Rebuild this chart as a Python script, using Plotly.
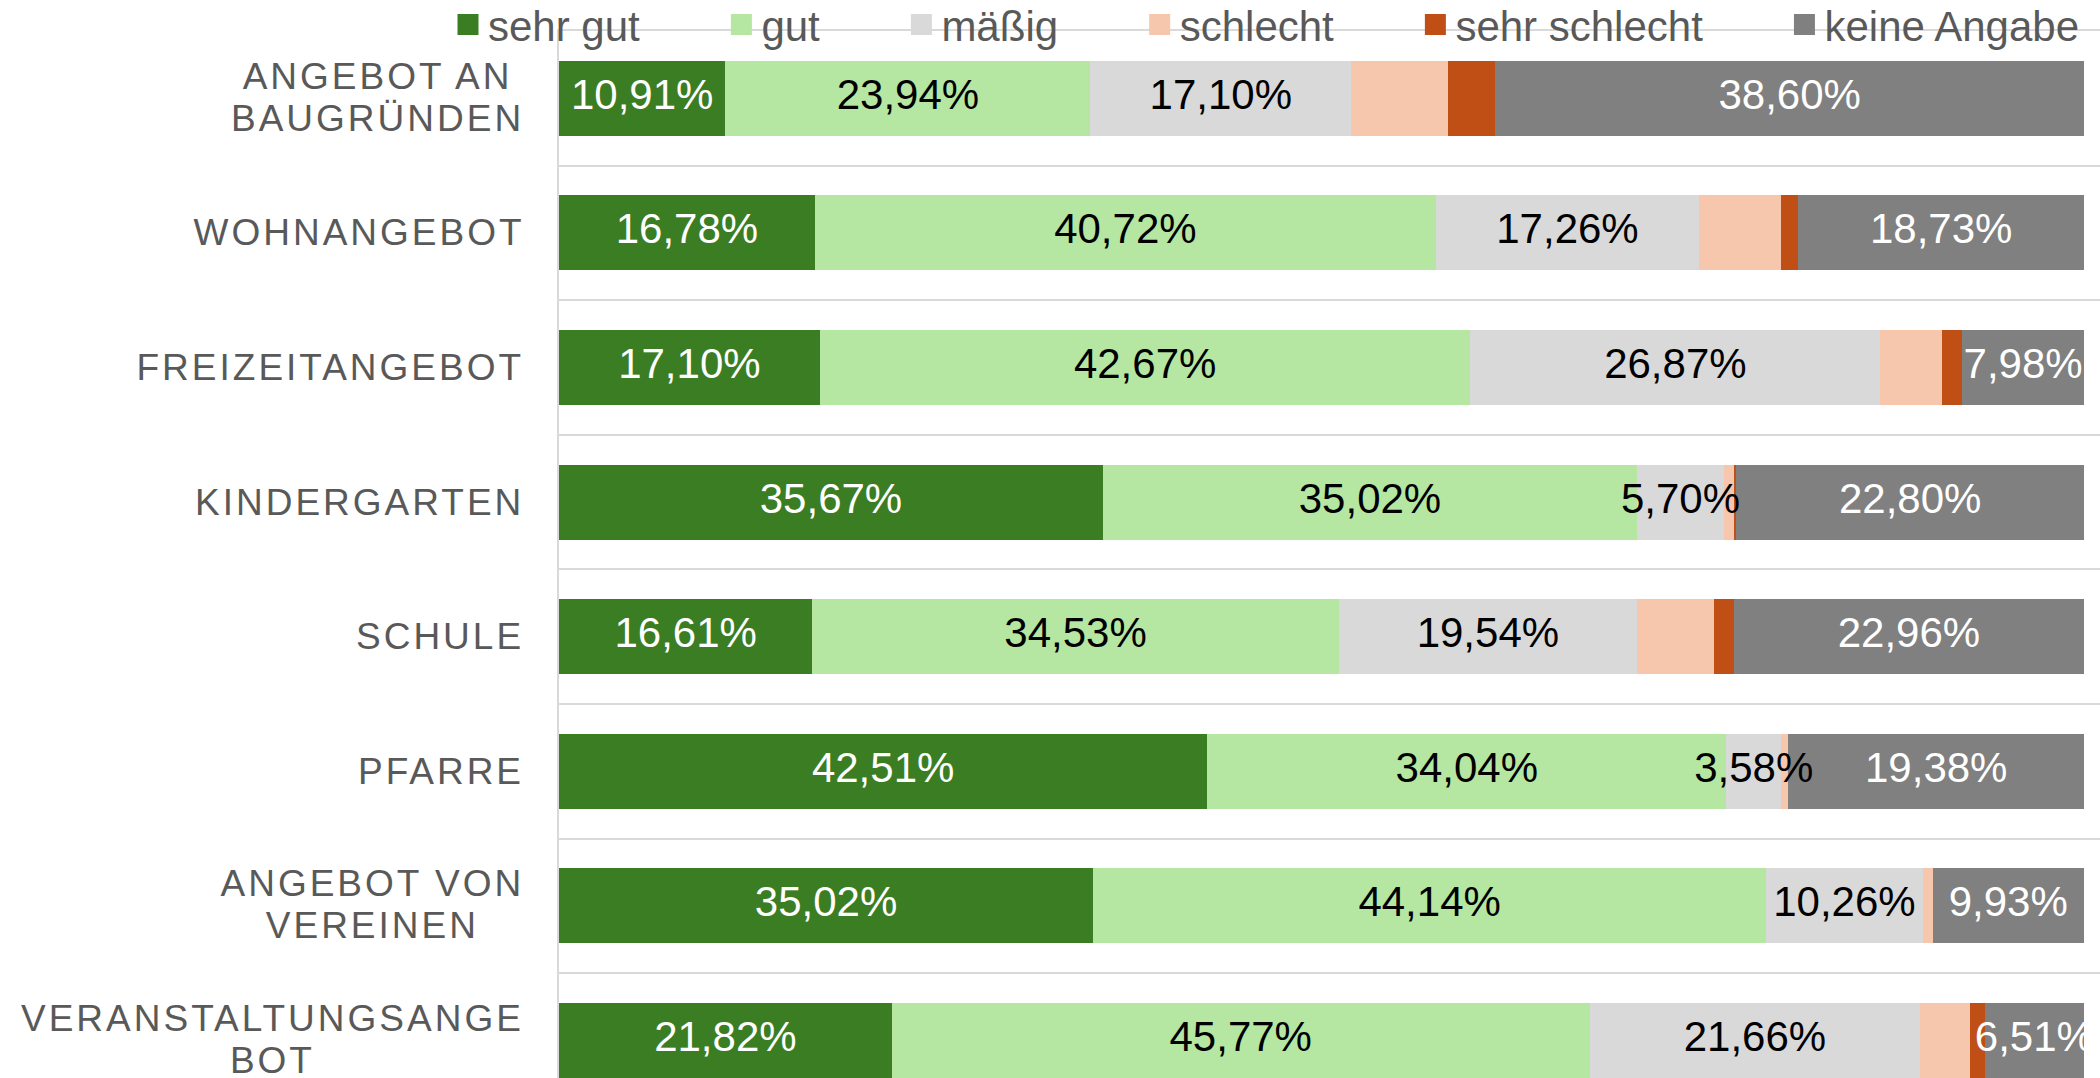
import plotly.graph_objects as go

# ---------------- data ----------------
categories = ["ANGEBOT AN BAUGRÜNDEN", "WOHNANGEBOT", "FREIZEITANGEBOT", "KINDERGARTEN",
              "SCHULE", "PFARRE", "ANGEBOT VON VEREINEN", "VERANSTALTUNGSANGEBOT"]
tick_labels = ["ANGEBOT AN<br>BAUGRÜNDEN", "WOHNANGEBOT", "FREIZEITANGEBOT", "KINDERGARTEN",
               "SCHULE", "PFARRE", "ANGEBOT VON<br>VEREINEN", "VERANSTALTUNGSANGE<br>BOT"]

series_names = ["sehr gut", "gut", "mäßig", "schlecht", "sehr schlecht", "keine Angabe"]
sehr_gut = [10.91, 16.78, 17.10, 35.67, 16.61, 42.51, 35.02, 21.82]
gut = [23.94, 40.72, 42.67, 35.02, 34.53, 34.04, 44.14, 45.77]
maessig = [17.10, 17.26, 26.87, 5.70, 19.54, 3.58, 10.26, 21.66]
schlecht = [6.35, 5.37, 4.07, 0.65, 5.05, 0.49, 0.65, 3.28]
sehr_schlecht = [3.10, 1.14, 1.31, 0.16, 1.31, 0.00, 0.00, 0.96]
keine_angabe = [38.60, 18.73, 7.98, 22.80, 22.96, 19.38, 9.93, 6.51]

# ---------------- styles ----------------
colors = ["#3B7D23", "#B5E6A2", "#D9D9D9", "#F6C6AD", "#C04F15", "#808080"]
label_colors = ["white", "black", "black", None, None, "white"]
FONT = "Liberation Sans, Arial, sans-serif"
GRAY_TXT = "#595959"
GRID = "#D9D9D9"

W, H = 2100, 1078
T = 31               # top margin; the mirrored x-axis line sits 1px above (y=30)
L = 559
ROW_PX = 134.6
BAR_PX = 75
PLOT_W = W - L
PLOT_H = H - T
FULL_PX = 2084 - L  # pixels that correspond to 100 %
LABEL_GAP = 36
LETTER_SP = 3

values = [sehr_gut, gut, maessig, schlecht, sehr_schlecht, keine_angabe]


def fmt(v):
    return ("%.2f" % v).replace(".", ",") + "%"


fig = go.Figure()
for name, vals, col in zip(series_names, values, colors):
    fig.add_trace(go.Bar(
        y=categories, x=vals, orientation="h", name=name,
        marker=dict(color=col, line=dict(width=0)),
        showlegend=False, hoverinfo="skip",
    ))

# value labels drawn above all bars (centred on each segment)
base = [0.0] * len(categories)
for name, vals, lc in zip(series_names, values, label_colors):
    if lc:
        fig.add_trace(go.Scatter(
            y=categories, x=[b + v / 2 for b, v in zip(base, vals)],
            mode="text", text=[fmt(v) for v in vals], textposition="middle center",
            textfont=dict(family=FONT, size=42, color=lc),
            showlegend=False, hoverinfo="skip", cliponaxis=False,
        ))
    base = [b + v for b, v in zip(base, vals)]

# legend-only entries (larger square swatches)
pad = '<span style="font-size:39.4px">' + "\u00a0" * 7 + "</span>"
for i, (name, col) in enumerate(zip(series_names, colors)):
    fig.add_trace(go.Scatter(
        x=[None], y=[None], mode="markers",
        name=name + (pad if i < len(series_names) - 1 else ""),
        marker=dict(symbol="square", size=16, color=col, line=dict(width=5, color=col)),
        showlegend=True, hoverinfo="skip",
    ))

y_top = -0.5
y_bottom = y_top + PLOT_H / ROW_PX

# category labels on the left (centre-aligned lines, right-aligned block)
for i, lab in enumerate(tick_labels):
    nmax = max(len(s) for s in lab.split("<br>"))
    fig.add_annotation(
        x=0, xref="paper", y=i, yref="y", xanchor="right", yanchor="middle",
        xshift=-LABEL_GAP - (nmax * LETTER_SP / 2 - LETTER_SP), text=lab, align="center",
        showarrow=False, font=dict(family=FONT, size=37, color=GRAY_TXT),
    )

fig.update_layout(
    width=W, height=H,
    margin=dict(l=L, r=0, t=T, b=0, pad=0, autoexpand=False),
    barmode="stack",
    bargap=1 - BAR_PX / ROW_PX,
    paper_bgcolor="white", plot_bgcolor="white",
    font=dict(family=FONT, color=GRAY_TXT),
    legend=dict(
        orientation="h", xref="paper", yref="paper",
        x=(448 - L) / PLOT_W, xanchor="left", y=1 + (T - 24.8) / PLOT_H, yanchor="middle",
        font=dict(family=FONT, size=42, color=GRAY_TXT),
        bgcolor="rgba(0,0,0,0)", borderwidth=0, itemclick=False, itemdoubleclick=False,
        traceorder="normal",
    ),
    xaxis=dict(range=[0, 100 * PLOT_W / FULL_PX], showgrid=False, zeroline=False,
               showline=True, mirror=True, linecolor=GRID, linewidth=2,
               showticklabels=False, ticks="", fixedrange=True),
    yaxis=dict(type="category", categoryorder="array", categoryarray=categories,
               range=[y_bottom, y_top], showticklabels=False, ticks="",
               showgrid=True, tickson="boundaries", gridcolor=GRID, gridwidth=2,
               showline=True, linecolor=GRID, linewidth=2, zeroline=False, fixedrange=True),
)

post_js = (
    "var gd=document.getElementById('{plot_id}');"
    "gd.querySelectorAll('.annotation-text').forEach(function(t){"
    "t.style.letterSpacing='%dpx';"
    "var ls=t.querySelectorAll('tspan.line');"
    "if(ls.length>1){ls.forEach(function(s,i){s.setAttribute('dy',i===0?'0.05em':'1.2em');});}"
    "});" % LETTER_SP
)
fig.write_html("out.html", config={"displayModeBar": False}, post_script=post_js)
